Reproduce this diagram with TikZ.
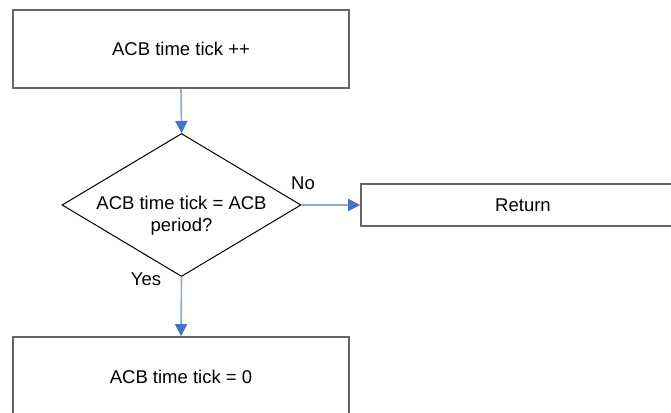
\documentclass[tikz,border=0pt]{standalone}
\usepackage{fontspec}
\setmainfont{Liberation Sans}
\usetikzlibrary{shapes.geometric,arrows.meta}
\definecolor{boxgray}{HTML}{666666}
\definecolor{linkblue}{HTML}{8EAADC}
\definecolor{tipblue}{HTML}{4472C4}
\tikzset{
  procbox/.style={draw=boxgray,line width=1.6pt,fill=white,rectangle,inner sep=0pt,font=\fontsize{18.5}{22}\selectfont},
  decbox/.style={draw=black,line width=1pt,diamond,inner sep=0pt},
  link/.style={draw=linkblue,line width=1.6pt,-{Triangle[length=12pt,width=12pt,color=tipblue,fill=tipblue]}},
  lbl/.style={inner sep=0pt,font=\fontsize{18.5}{22}\selectfont}
}
\begin{document}
\begin{tikzpicture}[x=1pt,y=-1pt]
\useasboundingbox (0,0) rectangle (671,412);
\clip (0,0) rectangle (671,412);
\fill[white] (0,0) rectangle (671,412);
\node[procbox,minimum width=336pt,minimum height=78pt] (top) at (181,49) {ACB time tick ++};
\node[decbox,minimum width=239pt,minimum height=143pt] (dec) at (181.5,205) {};
\node[lbl,align=center] (dectext) at (181.5,216) {ACB time tick = ACB\\period?};
\node[procbox,minimum width=324pt,minimum height=42pt] (ret) at (523,205) {Return};
\node[procbox,minimum width=336pt,minimum height=79pt] (bot) at (181,376.5) {ACB time tick = 0};
\draw[link] (top.south) -- (dec.north);
\draw[link] (dec.east) -- (ret.west);
\draw[link] (dec.south) -- (bot.north);
\node[lbl] (no) at (303,183) {No};
\node[lbl] (yes) at (146,279) {Yes};
\end{tikzpicture}
\end{document}
